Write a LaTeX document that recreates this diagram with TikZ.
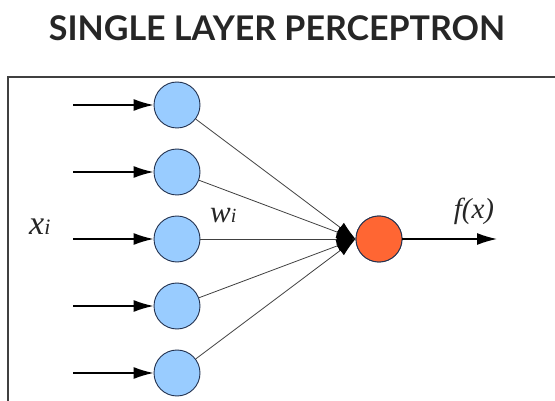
\documentclass[tikz,border=0pt]{standalone}
\usepackage{fontspec}
\setmainfont{Liberation Serif}
\newfontfamily\titlefont{Lato}
\usetikzlibrary{arrows.meta}
\definecolor{inblue}{RGB}{153,204,255}
\definecolor{outorange}{RGB}{255,102,51}
\definecolor{rimcol}{RGB}{35,50,80}
\tikzset{
  titletext/.style={font=\titlefont\bfseries\fontsize{34}{36}\selectfont, text=black!85},
  framepath/.style={draw=black!75, line width=2pt},
  inode/.style={circle, draw=rimcol, fill=inblue, line width=0.9pt, minimum size=46pt, inner sep=0pt},
  onode/.style={circle, draw=rimcol, fill=outorange, line width=0.9pt, minimum size=46pt, inner sep=0pt},
  inarrow/.style={draw=black, line width=1.4pt, -{Latex[length=20pt,width=12pt]}},
  wline/.style={draw=black!75, line width=0.8pt, -{Latex[length=19pt,width=12pt,color=black]}},
  mathlabel/.style={inner sep=0pt, text=black!85, font=\itshape}
}
\newcommand{\sizedtext}[2]{{\fontsize{#1}{#1}\selectfont #2}}
\begin{document}
\begin{tikzpicture}[x=1pt,y=-1pt]
\useasboundingbox (0,0) rectangle (555,401);
\node[titletext] (title) at (277,28) {SINGLE LAYER PERCEPTRON};
\draw[framepath] (8,402) -- (8,77) -- (556,77);
\node[onode] (o) at (379,239) {};
\foreach \i/\yy in {1/105,2/172,3/239,4/306,5/373}{
  \node[inode] (n\i) at (177,\yy) {};
  \coordinate (s\i) at (73,\yy);
  \draw[inarrow] (s\i) -- (n\i.west);
  \draw[wline] (n\i) -- (o.west);
}
\node[onode] at (o) {};
\coordinate (e) at (497,239);
\draw[inarrow] (o.east) -- (e);
\node[mathlabel, anchor=base west] (xl) at (29,235) {\sizedtext{34}{x}\sizedtext{22}{i}};
\node[mathlabel, anchor=base west] (wl) at (210,223) {\sizedtext{31}{w}\sizedtext{20}{i}};
\node[mathlabel, anchor=base] (fl) at (474,219) {\sizedtext{29}{f(x)}};
\end{tikzpicture}
\end{document}
